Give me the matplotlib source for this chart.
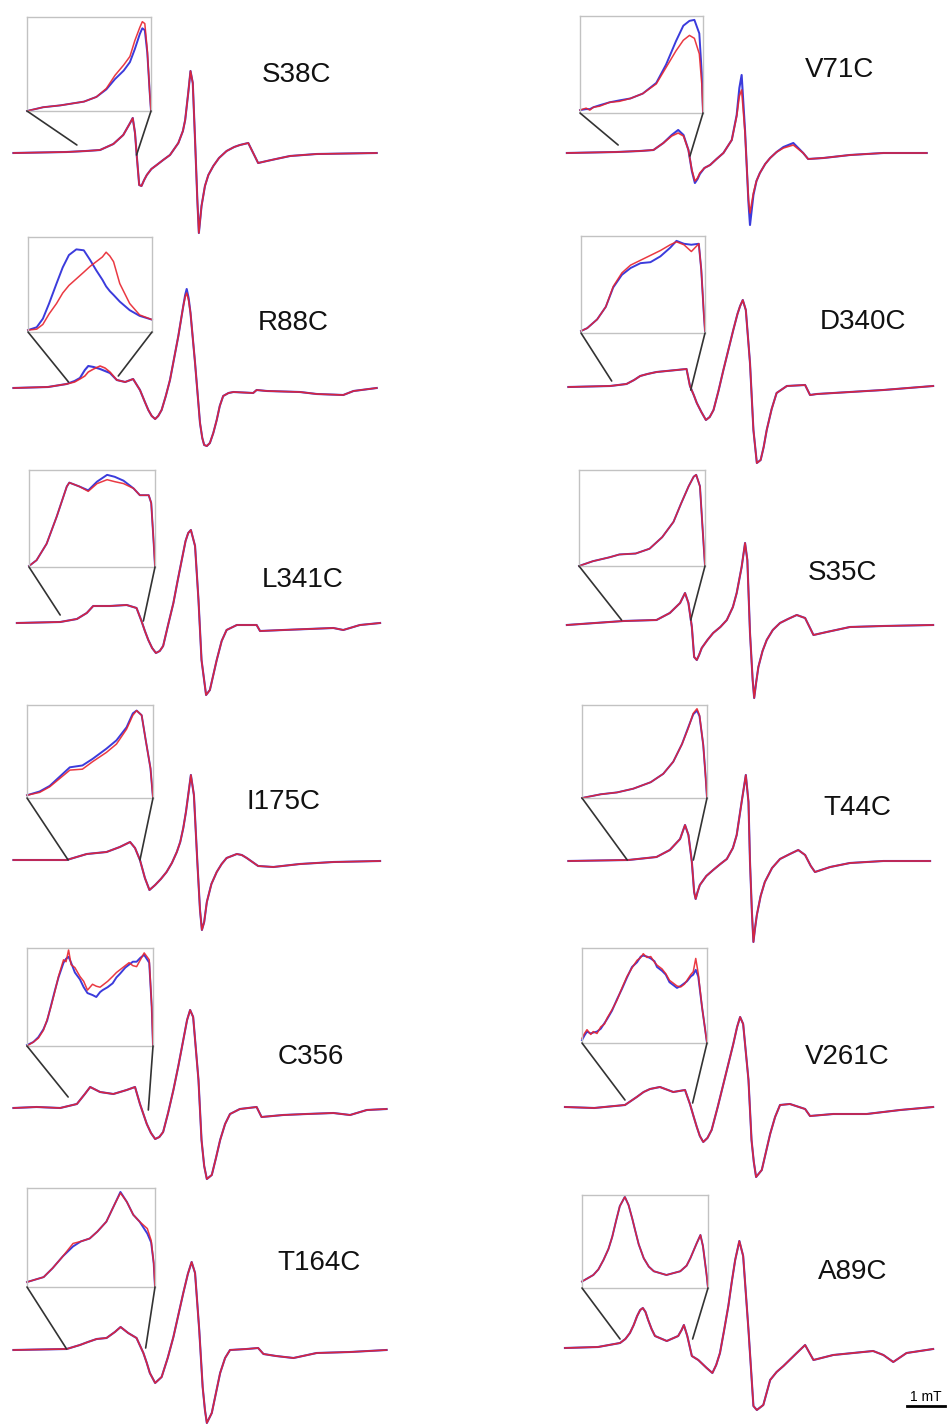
import matplotlib.pyplot as plt
from matplotlib.patches import ConnectionPatch

# ---- spectra: field (mT, from the left edge of each column) and signal (a.u.) ----
S38C_field = [0.09, 1.49, 2.00, 2.37, 2.72, 2.98, 3.16, 3.23, 3.29, 3.33, 3.40, 3.46, 3.53, 3.60, 3.72, 3.86, 4.03,
              4.21, 4.43, 4.55, 4.61, 4.69, 4.75, 4.81, 4.87, 4.93, 4.97, 5.04, 5.13, 5.22, 5.35, 5.50, 5.70, 5.90,
              6.05, 6.27, 6.40, 6.53, 6.76, 7.00, 7.37, 8.07, 9.65]
S38C_red = [0, 1, 2, 3, 9, 18, 30, 35, 20, 0, -32, -33, -27, -22, -16, -12, -7,
            -2, 10, 22, 33, 60, 82, 70, 13, -47, -80, -53, -33, -22, -13, -5, 2, 6,
            8, 10, 0, -10, -8, -6, -3, -1, 0]
S38C_blue = S38C_red

V71C_field = [0.18, 1.49, 2.10, 2.46, 2.72, 2.94, 3.11, 3.25, 3.38, 3.47, 3.55, 3.62, 3.68, 3.80, 3.95, 4.12, 4.30,
              4.52, 4.65, 4.72, 4.78, 4.87, 4.96, 5.00, 5.09, 5.17, 5.26, 5.40, 5.53, 5.70, 5.88, 6.14, 6.40, 6.53,
              6.93, 7.63, 8.51, 9.65]
V71C_red = [0, 1, 2, 3, 10, 17, 20, 17, 3, -17, -28, -25, -20, -15, -12, -6, 0,
            13, 37, 57, 63, 20, -47, -60, -40, -28, -20, -11, -5, 1, 5, 8, 0, -6,
            -5, -2, 0, 0]
V71C_blue = [0, 1, 2, 3, 10, 18, 23, 18, 3, -18, -30, -26, -21, -15, -12, -6, 0,
             13, 38, 65, 78, 22, -50, -72, -42, -28, -20, -11, -5, 1, 6, 10, 0, -6,
             -5, -2, 0, 0]

R88C_field = [0.09, 1.00, 1.49, 1.70, 1.84, 1.97, 2.06, 2.20, 2.37, 2.50, 2.63, 2.81, 3.03, 3.24, 3.42, 3.55, 3.64,
              3.73, 3.82, 3.90, 3.99, 4.10, 4.21, 4.32, 4.43, 4.56, 4.61, 4.65, 4.70, 4.75, 4.87, 5.00, 5.06, 5.11,
              5.18, 5.26, 5.35, 5.44, 5.52, 5.61, 5.75, 5.88, 6.40, 6.49, 6.76, 7.63, 8.07, 8.77, 9.04, 9.65]
R88C_red = [0, 1, 4, 6, 9, 12, 16, 19, 22, 20, 16, 8, 6, 9, -2, -14, -22,
            -28, -31, -28, -22, -8, 8, 30, 52, 82, 91, 95, 88, 75, 25, -35, -50, -57,
            -58, -55, -45, -32, -18, -8, -5, -4, -5, -2, -3, -4, -6, -7, -3, 0]
R88C_blue = [0, 1, 4, 7, 10, 18, 22, 21, 19, 17, 15, 8, 6, 9, -2, -14, -22,
             -28, -31, -28, -22, -8, 8, 30, 52, 82, 93, 99, 90, 75, 25, -35, -50, -57,
             -58, -55, -45, -32, -18, -8, -5, -4, -5, -2, -3, -4, -6, -7, -3, 0]

D340C_field = [0.22, 1.32, 1.75, 1.95, 2.11, 2.30, 2.54, 3.07, 3.33, 3.42, 3.52, 3.60, 3.72, 3.84, 3.94, 4.04, 4.17,
               4.30, 4.43, 4.56, 4.67, 4.74, 4.81, 4.89, 5.00, 5.09, 5.18, 5.28, 5.36, 5.44, 5.57, 5.70, 5.97, 6.45,
               6.58, 6.76, 7.63, 8.51, 9.82]
D340C_red = [0, 1, 3, 7, 11, 13, 15, 17, 18, 1, -8, -16, -25, -33, -30, -23, -4,
             17, 37, 57, 73, 81, 87, 77, 24, -43, -76, -73, -60, -43, -22, -6, 1, 2,
             -8, -7, -5, -3, 1]
D340C_blue = D340C_red

L341C_field = [0.18, 1.32, 1.76, 2.02, 2.19, 2.63, 3.07, 3.33, 3.46, 3.55, 3.64, 3.74, 3.84, 3.94, 4.03, 4.16, 4.30,
               4.41, 4.52, 4.62, 4.69, 4.76, 4.87, 4.96, 5.04, 5.16, 5.26, 5.35, 5.44, 5.57, 5.70, 5.97, 6.49, 6.58,
               7.19, 8.51, 8.77, 9.21, 9.74]
L341C_red = [0, 1, 4, 10, 17, 17, 18, 15, 2, -8, -17, -25, -30, -28, -23, -2, 20,
             42, 63, 82, 90, 93, 77, 23, -37, -72, -67, -52, -37, -18, -7, -2, -2, -8,
             -7, -5, -7, -2, 0]
L341C_blue = L341C_red

S35C_field = [0.18, 1.67, 2.54, 2.89, 3.16, 3.29, 3.38, 3.47, 3.53, 3.60, 3.66, 3.73, 3.88, 4.03, 4.22, 4.39, 4.55,
              4.65, 4.78, 4.87, 4.93, 5.00, 5.07, 5.11, 5.16, 5.22, 5.33, 5.44, 5.60, 5.79, 6.00, 6.23, 6.45, 6.58,
              6.67, 7.02, 7.63, 8.51, 9.82]
S35C_red = [0, 4, 5, 12, 22, 32, 22, -2, -32, -35, -30, -23, -15, -8, -2, 5, 18,
            32, 58, 82, 65, -8, -55, -73, -58, -42, -26, -15, -5, 2, 6, 10, 7, -3,
            -10, -7, -2, -1, 0]
S35C_blue = S35C_red

I175C_field = [0.09, 1.49, 2.02, 2.54, 2.89, 3.16, 3.29, 3.42, 3.55, 3.67, 3.82, 3.97, 4.12, 4.26, 4.39, 4.48, 4.56,
               4.63, 4.69, 4.76, 4.84, 4.93, 5.00, 5.05, 5.11, 5.18, 5.30, 5.44, 5.57, 5.70, 5.97, 6.10, 6.23, 6.38,
               6.53, 6.93, 7.63, 8.51, 9.74]
I175C_red = [0, 0, 6, 8, 13, 18, 12, 0, -18, -30, -25, -19, -12, -3, 8, 18, 32,
             48, 65, 85, 65, -2, -50, -70, -62, -42, -24, -12, -4, 2, 6, 5, 2, -2,
             -6, -7, -4, -2, -1]
I175C_blue = I175C_red

T44C_field = [0.22, 1.80, 2.54, 2.89, 3.16, 3.29, 3.38, 3.47, 3.53, 3.57, 3.62, 3.68, 3.85, 4.03, 4.22, 4.39, 4.55,
              4.65, 4.78, 4.89, 4.96, 5.00, 5.05, 5.09, 5.13, 5.18, 5.28, 5.39, 5.58, 5.79, 6.05, 6.27, 6.45, 6.60,
              6.71, 7.11, 7.63, 8.51, 9.74]
T44C_red = [0, 1, 4, 11, 22, 36, 26, -1, -31, -38, -31, -24, -15, -9, -3, 2, 13,
            26, 59, 86, 59, -1, -51, -81, -68, -54, -35, -21, -7, 2, 7, 11, 6, -5,
            -11, -6, -2, 0, 0]
T44C_blue = T44C_red

C356_field = [0.09, 0.70, 1.32, 1.76, 1.97, 2.11, 2.37, 2.72, 3.07, 3.29, 3.42, 3.51, 3.60, 3.71, 3.82, 3.93, 4.03,
              4.16, 4.30, 4.43, 4.56, 4.66, 4.74, 4.82, 4.96, 5.04, 5.11, 5.18, 5.31, 5.42, 5.53, 5.66, 5.79, 6.05,
              6.49, 6.62, 7.19, 7.80, 8.51, 8.95, 9.39, 9.91]
C356_red = [0, 1, 0, 4, 14, 21, 16, 14, 18, 21, 4, -6, -16, -25, -31, -29, -24,
            -5, 18, 42, 68, 88, 98, 91, 28, -32, -58, -71, -67, -50, -32, -16, -6, -1,
            1, -9, -7, -6, -5, -7, -2, -1]
C356_blue = C356_red

V261C_field = [0.13, 0.90, 1.71, 2.02, 2.20, 2.37, 2.63, 2.98, 3.29, 3.42, 3.52, 3.60, 3.68, 3.77, 3.88, 3.99, 4.15,
               4.30, 4.43, 4.56, 4.66, 4.74, 4.82, 4.96, 5.04, 5.10, 5.16, 5.31, 5.42, 5.53, 5.66, 5.79, 6.05, 6.45,
               6.58, 7.19, 8.07, 8.95, 9.82]
V261C_red = [0, -1, 2, 10, 15, 18, 20, 15, 17, 3, -10, -20, -29, -35, -31, -23, 0,
             23, 43, 63, 80, 90, 83, 27, -33, -55, -70, -63, -45, -27, -10, 2, 3, -2,
             -9, -7, -7, -3, 0]
V261C_blue = V261C_red

T164C_field = [0.09, 1.49, 1.84, 2.05, 2.28, 2.54, 2.76, 2.91, 3.11, 3.33, 3.51, 3.60, 3.68, 3.82, 3.99, 4.15, 4.30,
               4.43, 4.56, 4.68, 4.78, 4.87, 4.98, 5.07, 5.13, 5.18, 5.31, 5.42, 5.53, 5.66, 5.79, 6.23, 6.53, 6.67,
               7.00, 7.46, 8.07, 8.95, 9.91]
T164C_red = [0, 1, 5, 8, 11, 12, 18, 23, 17, 12, -3, -13, -23, -33, -27, -8, 13,
             35, 57, 76, 88, 77, 20, -37, -60, -73, -63, -43, -23, -8, 0, 1, 2, -4,
             -6, -8, -3, -2, 0]
T164C_blue = T164C_red

A89C_field = [0.13, 1.00, 1.58, 1.72, 1.84, 1.94, 2.03, 2.11, 2.18, 2.25, 2.32, 2.41, 2.50, 2.81, 3.11, 3.20, 3.26,
              3.35, 3.47, 3.64, 3.86, 4.01, 4.11, 4.21, 4.32, 4.43, 4.52, 4.61, 4.72, 4.82, 4.96, 5.09, 5.18, 5.35,
              5.53, 5.70, 5.88, 6.23, 6.45, 6.67, 7.19, 8.24, 8.51, 8.77, 9.12, 9.82]
A89C_red = [0, 1, 5, 9, 15, 23, 32, 38, 40, 36, 28, 19, 12, 7, 12, 18, 23,
            12, -8, -12, -20, -25, -17, -5, 18, 42, 66, 88, 107, 92, 18, -58, -62, -57,
            -32, -24, -18, -5, 3, -12, -7, -3, -7, -14, -5, -1]
A89C_blue = A89C_red

# ---- insets: zoomed low-field region, normalised to the box ----
S38C_ix = [0, 0.13, 0.27, 0.46, 0.56, 0.64, 0.71, 0.78, 0.83, 0.87, 0.91, 0.93, 0.95, 0.97, 0.99, 1.0]
S38C_ired = [0, 0.04, 0.06, 0.10, 0.15, 0.24, 0.38, 0.49, 0.58, 0.75, 0.89, 0.95, 0.93, 0.65, 0.19, 0.0]
S38C_iblue = [0, 0.04, 0.06, 0.10, 0.15, 0.23, 0.34, 0.43, 0.52, 0.66, 0.82, 0.88, 0.86, 0.62, 0.19, 0.0]

V71C_ix = [0, 0.05, 0.08, 0.11, 0.16, 0.24, 0.32, 0.41, 0.51, 0.62, 0.70, 0.78, 0.84, 0.89, 0.93, 0.97, 0.99, 1.0]
V71C_ired = [0.03, 0.05, 0.03, 0.06, 0.07, 0.11, 0.12, 0.15, 0.20, 0.30, 0.47, 0.64, 0.75, 0.80, 0.77, 0.61, 0.30, 0.0]
V71C_iblue = [0.03, 0.04, 0.04, 0.06, 0.08, 0.11, 0.13, 0.15, 0.20, 0.31, 0.50, 0.74, 0.90, 0.95, 0.96, 0.82, 0.41, 0.0]

R88C_ix = [0, 0.07, 0.12, 0.17, 0.23, 0.28, 0.33, 0.39, 0.45, 0.50, 0.55, 0.60, 0.63, 0.66, 0.69, 0.74, 0.82, 0.90, 1.0]
R88C_ired = [0.02, 0.03, 0.08, 0.19, 0.30, 0.41, 0.49, 0.56, 0.63, 0.69, 0.74, 0.79, 0.84, 0.80, 0.74, 0.51, 0.30, 0.18, 0.13]
R88C_iblue = [0.02, 0.05, 0.14, 0.30, 0.51, 0.68, 0.81, 0.87, 0.86, 0.76, 0.65, 0.55, 0.48, 0.43, 0.39, 0.32, 0.23, 0.17, 0.13]

D340C_ix = [0, 0.05, 0.13, 0.20, 0.26, 0.33, 0.40, 0.48, 0.56, 0.64, 0.72, 0.77, 0.83, 0.89, 0.95, 0.97, 0.99, 1.0]
D340C_ired = [0.02, 0.05, 0.14, 0.27, 0.48, 0.62, 0.70, 0.75, 0.80, 0.85, 0.91, 0.94, 0.91, 0.84, 0.92, 0.65, 0.21, 0.02]
D340C_iblue = [0.02, 0.05, 0.14, 0.27, 0.47, 0.60, 0.67, 0.72, 0.73, 0.79, 0.88, 0.95, 0.92, 0.91, 0.92, 0.65, 0.21, 0.02]

L341C_ix = [0, 0.06, 0.14, 0.22, 0.30, 0.32, 0.40, 0.47, 0.54, 0.62, 0.68, 0.75, 0.83, 0.88, 0.95, 0.97, 0.99, 1.0]
L341C_ired = [0.01, 0.07, 0.24, 0.52, 0.83, 0.87, 0.83, 0.78, 0.86, 0.90, 0.88, 0.86, 0.81, 0.74, 0.74, 0.66, 0.24, 0.01]
L341C_iblue = [0.01, 0.07, 0.24, 0.52, 0.83, 0.87, 0.83, 0.79, 0.88, 0.95, 0.93, 0.89, 0.81, 0.74, 0.74, 0.66, 0.24, 0.01]

S35C_ix = [0, 0.11, 0.24, 0.32, 0.45, 0.56, 0.66, 0.75, 0.81, 0.87, 0.91, 0.93, 0.96, 0.98, 1.0]
S35C_ired = [0, 0.05, 0.09, 0.12, 0.13, 0.18, 0.30, 0.46, 0.65, 0.83, 0.93, 0.95, 0.83, 0.41, 0]
S35C_iblue = S35C_ired

I175C_ix = [0, 0.10, 0.18, 0.26, 0.34, 0.44, 0.52, 0.63, 0.71, 0.79, 0.84, 0.87, 0.91, 0.94, 0.98, 1.0]
I175C_ired = [0.03, 0.06, 0.12, 0.21, 0.30, 0.31, 0.39, 0.49, 0.58, 0.74, 0.89, 0.94, 0.89, 0.64, 0.32, 0]
I175C_iblue = [0.03, 0.07, 0.13, 0.23, 0.33, 0.35, 0.42, 0.53, 0.62, 0.76, 0.91, 0.94, 0.89, 0.64, 0.32, 0]

T44C_ix = [0, 0.15, 0.28, 0.41, 0.55, 0.65, 0.73, 0.80, 0.85, 0.89, 0.92, 0.94, 0.97, 0.99, 1.0]
T44C_ired = [0, 0.04, 0.06, 0.10, 0.17, 0.26, 0.39, 0.58, 0.75, 0.91, 0.96, 0.89, 0.57, 0.21, 0]
T44C_iblue = [0, 0.04, 0.06, 0.10, 0.17, 0.26, 0.39, 0.58, 0.76, 0.90, 0.94, 0.88, 0.57, 0.21, 0]

C356_ix = [0, 0.05, 0.09, 0.13, 0.16, 0.19, 0.22, 0.25, 0.29, 0.31, 0.33, 0.35, 0.38, 0.42, 0.45, 0.48, 0.52,
           0.55, 0.58, 0.60, 0.64, 0.68, 0.71, 0.74, 0.78, 0.81, 0.84, 0.87, 0.90, 0.93, 0.97, 0.99, 1.0]
C356_ired = [0, 0.04, 0.08, 0.16, 0.27, 0.40, 0.55, 0.71, 0.88, 0.86, 0.98, 0.83, 0.80, 0.71, 0.66, 0.57, 0.63,
             0.61, 0.60, 0.62, 0.66, 0.71, 0.75, 0.78, 0.82, 0.85, 0.82, 0.81, 0.88, 0.95, 0.88, 0.40, 0]
C356_iblue = [0.01, 0.04, 0.09, 0.17, 0.26, 0.41, 0.56, 0.70, 0.85, 0.89, 0.91, 0.85, 0.75, 0.68, 0.60, 0.54, 0.52,
              0.50, 0.55, 0.57, 0.60, 0.64, 0.70, 0.74, 0.80, 0.83, 0.86, 0.86, 0.90, 0.93, 0.85, 0.40, 0]

V261C_ix = [0, 0.02, 0.04, 0.07, 0.09, 0.12, 0.15, 0.18, 0.20, 0.24, 0.28, 0.32, 0.36, 0.40, 0.44, 0.47, 0.49, 0.52,
            0.55, 0.58, 0.60, 0.64, 0.67, 0.70, 0.73, 0.76, 0.79, 0.82, 0.84, 0.87, 0.89, 0.91, 0.93, 0.96, 1.0]
V261C_ired = [0.05, 0.10, 0.14, 0.09, 0.12, 0.10, 0.17, 0.20, 0.26, 0.35, 0.45, 0.58, 0.70, 0.79, 0.87, 0.90, 0.94, 0.90,
              0.91, 0.85, 0.82, 0.78, 0.73, 0.66, 0.63, 0.60, 0.59, 0.62, 0.66, 0.72, 0.75, 0.89, 0.73, 0.38, 0]
V261C_iblue = [0.03, 0.08, 0.12, 0.10, 0.11, 0.12, 0.15, 0.21, 0.25, 0.34, 0.46, 0.57, 0.69, 0.80, 0.85, 0.91, 0.92, 0.91,
               0.89, 0.86, 0.80, 0.76, 0.72, 0.64, 0.61, 0.58, 0.60, 0.63, 0.65, 0.70, 0.72, 0.77, 0.70, 0.38, 0]

T164C_ix = [0, 0.13, 0.20, 0.28, 0.36, 0.42, 0.49, 0.55, 0.62, 0.69, 0.73, 0.78, 0.83, 0.88, 0.94, 0.97, 0.99, 1.0]
T164C_ired = [0.05, 0.10, 0.19, 0.31, 0.44, 0.46, 0.49, 0.56, 0.66, 0.85, 0.95, 0.86, 0.73, 0.66, 0.59, 0.47, 0.24, 0]
T164C_iblue = [0.05, 0.10, 0.19, 0.31, 0.41, 0.46, 0.49, 0.56, 0.66, 0.85, 0.96, 0.86, 0.73, 0.66, 0.54, 0.45, 0.24, 0]

A89C_ix = [0, 0.09, 0.13, 0.17, 0.21, 0.24, 0.27, 0.30, 0.34, 0.37, 0.40, 0.42, 0.45, 0.49, 0.53, 0.57, 0.67,
           0.78, 0.83, 0.86, 0.91, 0.94, 0.96, 0.99, 1.0]
A89C_ired = [0.07, 0.14, 0.20, 0.30, 0.42, 0.55, 0.72, 0.88, 0.98, 0.89, 0.74, 0.63, 0.47, 0.32, 0.23, 0.18, 0.14,
             0.18, 0.24, 0.32, 0.48, 0.57, 0.45, 0.13, 0]
A89C_iblue = A89C_ired

# zoom window on each spectrum: (field, signal) where the two connector lines end
S38C_zoom = [(1.76, 8), (3.33, -2)]
V71C_zoom = [(1.53, 8), (3.42, -3)]
R88C_zoom = [(1.54, 6), (2.85, 12)]
D340C_zoom = [(1.36, 6), (3.44, -3)]
L341C_zoom = [(1.32, 8), (3.51, 2)]
S35C_zoom = [(1.62, 5), (3.44, 5)]
I175C_zoom = [(1.53, 0), (3.42, 0)]
T44C_zoom = [(1.77, 1), (3.51, 1)]
C356_zoom = [(1.53, 11), (3.64, -2)]
V261C_zoom = [(1.71, 7), (3.49, 4)]
T164C_zoom = [(1.49, 1), (3.57, 2)]
A89C_zoom = [(1.58, 9), (3.49, 9)]

SCALE_BAR_MT = 1.0

panels = [
    ("S38C", S38C_field, S38C_red, S38C_blue, S38C_ix, S38C_ired, S38C_iblue, S38C_zoom),
    ("V71C", V71C_field, V71C_red, V71C_blue, V71C_ix, V71C_ired, V71C_iblue, V71C_zoom),
    ("R88C", R88C_field, R88C_red, R88C_blue, R88C_ix, R88C_ired, R88C_iblue, R88C_zoom),
    ("D340C", D340C_field, D340C_red, D340C_blue, D340C_ix, D340C_ired, D340C_iblue, D340C_zoom),
    ("L341C", L341C_field, L341C_red, L341C_blue, L341C_ix, L341C_ired, L341C_iblue, L341C_zoom),
    ("S35C", S35C_field, S35C_red, S35C_blue, S35C_ix, S35C_ired, S35C_iblue, S35C_zoom),
    ("I175C", I175C_field, I175C_red, I175C_blue, I175C_ix, I175C_ired, I175C_iblue, I175C_zoom),
    ("T44C", T44C_field, T44C_red, T44C_blue, T44C_ix, T44C_ired, T44C_iblue, T44C_zoom),
    ("C356", C356_field, C356_red, C356_blue, C356_ix, C356_ired, C356_iblue, C356_zoom),
    ("V261C", V261C_field, V261C_red, V261C_blue, V261C_ix, V261C_ired, V261C_iblue, V261C_zoom),
    ("T164C", T164C_field, T164C_red, T164C_blue, T164C_ix, T164C_ired, T164C_iblue, T164C_zoom),
    ("A89C", A89C_field, A89C_red, A89C_blue, A89C_ix, A89C_ired, A89C_iblue, A89C_zoom),
]

# ---- layout (pixels of the 947x1425 canvas) ----
W, H, DPI = 947, 1425, 100
PX_PER_MT = 38.0
COL_LEFT = [10, 560]
PANEL_W = 387
baselines = [153, 153, 388, 387, 623, 625, 860, 861, 1108, 1107, 1350, 1348]
inset_boxes = [(27, 17, 151, 111), (580, 16, 703, 113), (28, 237, 152, 332), (581, 236, 705, 333),
               (29, 470, 155, 567), (579, 470, 705, 566), (27, 705, 153, 798), (582, 705, 707, 798),
               (27, 948, 153, 1046), (582, 948, 707, 1043), (27, 1188, 155, 1287), (582, 1195, 708, 1288)]
label_pos = [(297, 75), (840, 70), (293, 323), (863, 322), (303, 580), (843, 573),
             (283, 802), (857, 808), (311, 1057), (847, 1057), (319, 1263), (853, 1272)]

BLUE = "#3b3bdc"
RED = "#e8242e"

plt.rcParams['font.family'] = ['Liberation Sans', 'DejaVu Sans']
fig = plt.figure(figsize=(W / DPI, H / DPI), dpi=DPI)


def px_axes(left, top, width, height):
    return fig.add_axes([left / W, 1 - (top + height) / H, width / W, height / H])


main_axes = []
for i, (name, field, red, blue, ix, ired, iblue, zoom) in enumerate(panels):
    col = i % 2
    base = baselines[i]
    ax = px_axes(COL_LEFT[col], base - 140, PANEL_W, 240)
    ax.set_xlim(0, PANEL_W / PX_PER_MT)
    ax.set_ylim(-100, 140)
    ax.axis('off')
    ax.patch.set_alpha(0)
    ax.plot(field, blue, color=BLUE, lw=1.5, clip_on=False, solid_joinstyle='round')
    ax.plot(field, red, color=RED, lw=1.2, alpha=0.9, clip_on=False, solid_joinstyle='round')
    main_axes.append(ax)

    l, t, r, b = inset_boxes[i]
    iax = px_axes(l, t, r - l, b - t)
    iax.set_xlim(0, 1)
    iax.set_ylim(0, 1)
    iax.set_xticks([])
    iax.set_yticks([])
    iax.patch.set_alpha(0)
    for s in iax.spines.values():
        s.set_color("#c2c2c2")
        s.set_linewidth(1.0)
    iax.plot(ix, iblue, color=BLUE, lw=1.4, clip_on=False, solid_joinstyle='round')
    iax.plot(ix, ired, color=RED, lw=1.1, alpha=0.9, clip_on=False, solid_joinstyle='round')

    for corner, end in zip([(0, 0), (1, 0)], zoom):
        con = ConnectionPatch(xyA=corner, coordsA=iax.transAxes, xyB=end, coordsB=ax.transData,
                              color="#333333", lw=1.2)
        fig.add_artist(con)

    lx, ly = label_pos[i]
    fig.text(lx / W, 1 - ly / H, name, fontsize=20, ha='center', va='center', color="#111111")

# scale bar, 1 mT, under the last spectrum
ax = main_axes[-1]
bar_start = 9.12
ax.plot([bar_start, bar_start + SCALE_BAR_MT], [-58, -58], color='black', lw=2, clip_on=False)
ax.text(bar_start + SCALE_BAR_MT / 2, -56, "1 mT", fontsize=10, ha='center', va='bottom')

fig.savefig("out.png", dpi=DPI)
